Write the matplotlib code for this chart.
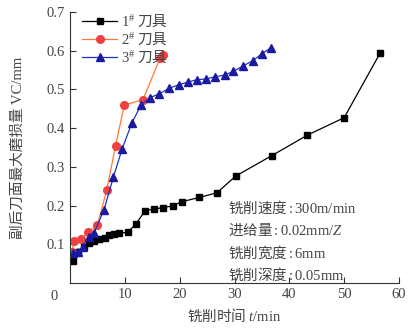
import matplotlib
matplotlib.use("Agg")
import matplotlib.pyplot as plt

plt.rcParams['font.family'] = ['Liberation Serif', 'Noto Sans CJK SC']
plt.rcParams['mathtext.fontset'] = 'custom'
plt.rcParams['mathtext.rm'] = 'Liberation Serif'
plt.rcParams['mathtext.it'] = 'Liberation Serif:italic'
plt.rcParams['mathtext.bf'] = 'Liberation Serif:bold'
plt.rcParams['mathtext.sf'] = 'Liberation Serif'

t1 = [0.6, 1.5, 2.6, 3.5, 4.4, 5.3, 6.3, 7.2, 8.1, 9.0, 10.5, 12.0, 13.7, 15.4, 17.0, 18.7, 20.4, 23.6, 26.8, 30.2, 36.8, 43.3, 50.0, 56.6]
w1 = [0.058, 0.081, 0.094, 0.104, 0.108, 0.113, 0.117, 0.124, 0.127, 0.129, 0.131, 0.152, 0.187, 0.191, 0.195, 0.199, 0.210, 0.221, 0.233, 0.276, 0.329, 0.382, 0.427, 0.595]

t2 = [0.3, 0.8, 2.0, 3.3, 5.0, 6.7, 8.3, 9.9, 13.3, 16.4, 17.0]
w2 = [0.081, 0.108, 0.113, 0.131, 0.150, 0.240, 0.354, 0.460, 0.473, 0.580, 0.589]

t3 = [0.6, 1.5, 2.3, 3.5, 4.4, 6.2, 7.9, 9.5, 11.3, 13.0, 14.6, 16.2, 18.1, 19.8, 21.5, 23.1, 24.8, 26.5, 28.2, 29.8, 31.5, 33.3, 35.0, 36.7]
w3 = [0.078, 0.081, 0.094, 0.120, 0.130, 0.189, 0.273, 0.346, 0.414, 0.461, 0.479, 0.488, 0.503, 0.512, 0.519, 0.525, 0.527, 0.533, 0.537, 0.547, 0.560, 0.574, 0.592, 0.608]

labels = [r'$\mathrm{1}^{\#}$ 刀具', r'$\mathrm{2}^{\#}$ 刀具', r'$\mathrm{3}^{\#}$ 刀具']
xticks = [10, 20, 30, 40, 50, 60]
yticks = [0.1, 0.2, 0.3, 0.4, 0.5, 0.6, 0.7]
notes = [r'铣削速度$\mathrm{:300m/min}$', r'进给量$\mathrm{:0.02mm/}Z$', r'铣削宽度$\mathrm{:6mm}$', r'铣削深度$\mathrm{:0.05mm}$']
cjk = ['Noto Sans CJK SC', 'Liberation Serif']

fig = plt.figure(figsize=(4.19, 3.31), dpi=100)
ax = fig.add_axes([70/419, 48/331, 329/419, 271/331])

ax.plot(t1, w1, color='black', lw=0.9, marker='s', ms=4.5, mfc='black', mec='black', label=labels[0])
ax.plot(t2, w2, color='#ff7a30', lw=0.9, marker='o', ms=5.5, mfc='#f04040', mec='#f04040', label=labels[1])
ax.plot(t3, w3, color='#2030c0', lw=0.9, marker='^', ms=5.5, mfc='#1a1aa0', mec='#1a1aa0', label=labels[2])

ax.set_xlim(0, 60)
ax.set_ylim(0, 0.7)
ax.set_xticks(xticks)
ax.set_yticks(yticks)
ax.set_xticklabels([str(v) for v in xticks])
ax.set_yticklabels([f'{v:.1f}' for v in yticks])
ax.tick_params(direction='in', length=4, width=0.8, labelsize=10.5, colors='#333333', labelcolor='#444444')
for s in ['top', 'right']:
    ax.spines[s].set_visible(False)
for s in ['left', 'bottom']:
    ax.spines[s].set_color('#333333')
    ax.spines[s].set_linewidth(0.8)

ax.text(-0.048, -0.05, '0', transform=ax.transAxes, ha='center', va='center', fontsize=10.5, color='#444444')

ax.set_xlabel(r'铣削时间 $t\mathrm{/min}$', fontsize=10.5, color='#444444', labelpad=4, family=cjk)
ax.set_ylabel('副后刀面最大磨损量 VC/mm', fontsize=10.5, color='#444444', labelpad=16)

leg = ax.legend(loc='upper left', bbox_to_anchor=(0.01, 1.03), frameon=False, fontsize=10.5,
                handlelength=2.4, handletextpad=0.3, labelspacing=0.1, borderaxespad=0.2,
                prop={'family': cjk, 'size': 10.5})
for txt in leg.get_texts():
    txt.set_color('#444444')

for i, n in enumerate(notes):
    ax.text(0.48, 0.28 - i * 0.083, n, transform=ax.transAxes, fontsize=10.5, color='#444444', va='center', family=cjk)

fig.savefig('out.png', dpi=100)
